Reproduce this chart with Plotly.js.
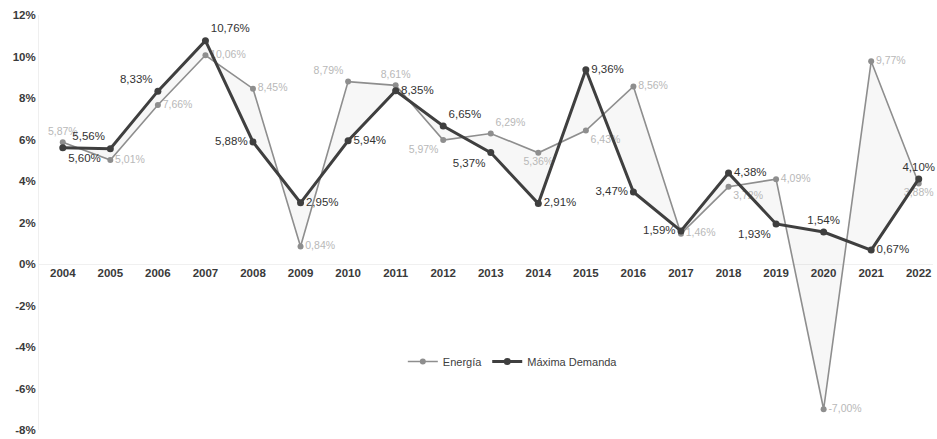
<!DOCTYPE html>
<html>
<head>
<meta charset="utf-8">
<script src="https://cdn.plot.ly/plotly-3.0.1.min.js"></script>
<style>
  html, body { margin: 0; padding: 0; background: #ffffff; }
  #chart { width: 937px; height: 439px; }
</style>
</head>
<body>
<div id="chart"></div>
<script>
// Annual growth rates (%)
const years = [2004, 2005, 2006, 2007, 2008, 2009, 2010, 2011, 2012, 2013,
               2014, 2015, 2016, 2017, 2018, 2019, 2020, 2021, 2022];
const energia = [5.87, 5.01, 7.66, 10.06, 8.45, 0.84, 8.79, 8.61, 5.97, 6.29,
                 5.36, 6.43, 8.56, 1.46, 3.72, 4.09, -7.00, 9.77, 3.88];
const maximaDemanda = [5.60, 5.56, 8.33, 10.76, 5.88, 2.95, 5.94, 8.35, 6.65, 5.37,
                       2.91, 9.36, 3.47, 1.59, 4.38, 1.93, 1.54, 0.67, 4.10];
const yTicks = [-8, -6, -4, -2, 0, 2, 4, 6, 8, 10, 12];

// Label placement for each point
const posEnergia = ['top center', 'middle right', 'middle right', 'middle right', 'middle right',
                    'middle right', 'top left', 'top center', 'bottom left', 'top right',
                    'bottom center', 'bottom right', 'middle right', 'middle right', 'bottom right',
                    'middle right', 'middle right', 'middle right', 'bottom center'];
const posDemanda = ['bottom right', 'top left', 'top left', 'top right', 'middle left',
                    'middle right', 'middle right', 'middle right', 'top right', 'bottom left',
                    'middle right', 'middle right', 'middle left', 'middle left', 'middle right',
                    'bottom left', 'top center', 'middle right', 'top center'];

const fmt = v => v.toFixed(2).replace('.', ',') + '%';
const darkGrey = '#3f3f3f';
const midGrey = '#8e8e8e';
const labelFont = 'Liberation Sans Narrow, Liberation Sans, Arial, sans-serif';

const traces = [
  // shaded band between both series
  { x: years, y: maximaDemanda, mode: 'lines', line: { width: 0 },
    showlegend: false, hoverinfo: 'skip' },
  { x: years, y: energia, mode: 'lines', line: { width: 0 },
    fill: 'tonexty', fillcolor: 'rgba(0,0,0,0.03)',
    showlegend: false, hoverinfo: 'skip' },
  {
    name: 'Energía', x: years, y: energia, mode: 'lines+markers+text',
    line: { color: midGrey, width: 1.6 },
    marker: { color: midGrey, size: 6 },
    text: energia.map(fmt), textposition: posEnergia,
    textfont: { family: 'Liberation Sans, Arial, sans-serif', size: 10.5, color: '#b8b8b8' },
    cliponaxis: false
  },
  {
    name: 'Máxima Demanda', x: years, y: maximaDemanda, mode: 'lines+markers+text',
    line: { color: darkGrey, width: 3 },
    marker: { color: darkGrey, size: 7 },
    text: maximaDemanda.map(fmt), textposition: posDemanda,
    textfont: { family: 'Liberation Sans, Arial, sans-serif', size: 11.5, color: '#333333' },
    cliponaxis: false
  }
];

const layout = {
  width: 937, height: 439,
  margin: { l: 39, r: 4, t: 15, b: 9 },
  paper_bgcolor: '#ffffff', plot_bgcolor: '#ffffff',
  showlegend: true,
  legend: {
    orientation: 'h', traceorder: 'normal',
    x: 0.53, xanchor: 'center', y: 0.165, yanchor: 'middle',
    font: { family: labelFont, size: 11, color: '#404040' },
    bgcolor: 'rgba(0,0,0,0)', itemwidth: 30
  },
  xaxis: {
    range: [2003.5, 2022.3], tickvals: years, ticktext: years.map(String),
    showgrid: false, zeroline: false, showline: false, ticks: '',
    anchor: 'free', position: 0.4, side: 'bottom',
    tickfont: { family: labelFont, size: 11.5, color: '#3a3a3a', weight: 'bold' }
  },
  yaxis: {
    range: [-8, 12], tickvals: yTicks, ticktext: yTicks.map(v => v + '%'),
    showgrid: false, zeroline: true, zerolinecolor: '#f0f0f0', zerolinewidth: 1,
    showline: true, linecolor: '#efefef', linewidth: 1, ticks: '',
    tickfont: { family: labelFont, size: 11.5, color: '#3a3a3a', weight: 'bold' }
  }
};

Plotly.newPlot('chart', traces, layout, { displayModeBar: false, staticPlot: true });
</script>
</body>
</html>
